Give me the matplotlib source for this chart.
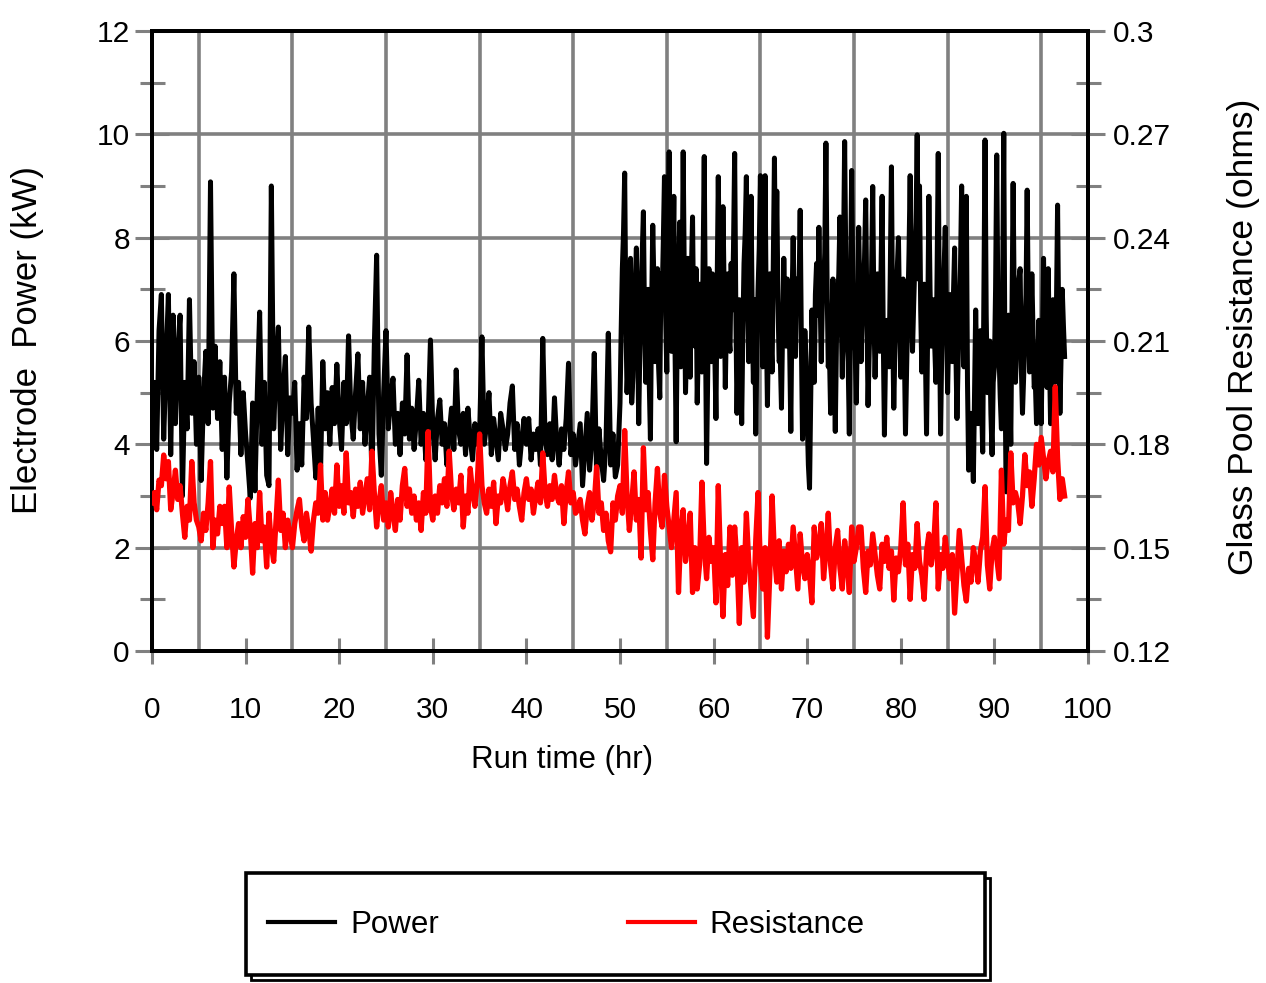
import numpy as np
import matplotlib
matplotlib.use("Agg")
import matplotlib.pyplot as plt
from matplotlib.patches import Rectangle

plt.rcParams['font.family'] = ['Liberation Sans', 'DejaVu Sans']

# ---------------- data ----------------
sample_step_hr = 0.25      # readings every 15 min, starting at 0 hr
mid_start_hr = 50.125      # extra readings between those, 50-97.5 hr

power_kw = [
    # 0-5 hr
    4.6, 5.2, 3.9, 6.2, 6.9, 4.1, 5.6, 6.9, 3.8, 6.5, 4.4, 5.8, 6.5, 3.0, 5.2, 4.3, 6.8, 4.6, 5.6, 4.0,
    # 5-10
    5.3, 3.3, 4.9, 5.8, 4.4, 9.08, 4.7, 5.9, 4.5, 5.6, 3.9, 5.3, 3.35, 4.8, 5.4, 7.3, 4.6, 5.2, 3.8, 5.0,
    # 10-15
    4.2, 3.6, 2.96, 4.8, 3.1, 5.0, 6.56, 4.0, 5.2, 3.4, 3.2, 9.0, 4.3, 5.5, 6.27, 3.9, 5.0, 5.7, 3.8, 4.9,
    # 15-20
    4.6, 5.2, 3.5, 4.4, 3.6, 5.3, 4.5, 6.27, 4.8, 4.1, 3.35, 4.7, 3.4, 5.6, 4.3, 5.0, 4.0, 5.1, 4.4, 5.55,
    # 20-25
    4.5, 3.9, 5.2, 4.4, 6.1, 4.6, 4.1, 5.0, 5.75, 4.3, 5.2, 4.0, 4.7, 5.3, 3.3, 5.9, 7.66, 4.2, 3.4, 5.0,
    # 25-30
    6.2, 4.3, 4.9, 5.28, 4.0, 4.6, 3.8, 4.8, 4.2, 5.73, 4.1, 4.7, 3.9, 4.5, 5.24, 4.0, 4.6, 3.7, 4.4, 6.02,
    # 30-35
    4.3, 3.7, 4.5, 4.86, 4.0, 4.4, 3.6, 4.2, 4.7, 3.9, 5.44, 4.3, 4.0, 4.6, 3.8, 4.7, 4.1, 3.7, 4.4, 4.0,
    # 35-40
    4.2, 6.08, 4.0, 4.4, 5.0, 3.8, 4.5, 4.1, 3.7, 4.6, 4.3, 3.9, 4.2, 4.8, 5.13, 3.9, 4.4, 3.6, 4.1, 4.5,
    # 40-45
    4.0, 4.5, 3.7, 4.2, 3.9, 4.3, 3.6, 6.05, 4.1, 3.8, 4.4, 3.7, 4.9, 4.0, 3.6, 4.3, 3.9, 4.5, 5.57, 3.8,
    # 45-50
    4.2, 3.6, 4.0, 4.4, 3.2, 3.9, 4.6, 3.5, 4.1, 5.76, 3.4, 4.3, 3.7, 3.3, 4.0, 6.15, 3.6, 4.2, 3.37, 3.6,
    # 50-55
    4.8, 7.4, 9.25, 5.0, 7.2, 4.8, 6.6, 7.8, 4.4, 6.9, 8.5, 5.2, 7.0, 4.1, 8.24, 5.6, 7.4, 4.9, 6.8, 9.18,
    # 55-60
    5.4, 9.66, 5.8, 8.8, 4.05, 7.2, 5.5, 9.66, 5.0, 7.6, 5.3, 8.4, 5.9, 4.8, 7.1, 5.4, 9.57, 3.63, 7.4, 5.6,
    # 60-65
    6.9, 4.5, 9.18, 5.7, 8.6, 5.1, 7.3, 5.8, 6.6, 9.63, 4.6, 6.8, 4.4, 7.5, 9.18, 5.6, 8.8, 5.2, 4.2, 7.0,
    # 65-70
    9.2, 5.5, 9.2, 4.75, 7.3, 5.4, 9.54, 8.9, 5.6, 4.7, 7.6, 5.9, 6.8, 4.25, 8.0, 5.7, 6.9, 8.53, 4.1, 6.2,
    # 70-75
    4.5, 3.15, 6.6, 5.2, 7.5, 8.2, 5.6, 7.0, 9.83, 5.5, 4.6, 7.2, 4.25, 6.8, 8.4, 5.3, 9.86, 6.0, 4.2, 9.3,
    # 75-80
    6.1, 4.8, 8.2, 5.6, 7.0, 8.73, 4.75, 6.5, 8.99, 5.3, 7.3, 5.8, 8.8, 4.18, 6.4, 5.5, 9.37, 4.7, 6.9, 8.0,
    # 80-85
    5.3, 7.2, 4.2, 6.6, 9.2, 5.8, 7.5, 9.99, 9.0, 5.4, 7.1, 4.2, 8.8, 5.9, 6.8, 5.2, 9.63, 4.2, 7.0, 8.2,
    # 85-90
    5.0, 6.9, 5.6, 7.8, 4.5, 6.4, 9.0, 5.5, 8.8, 3.5, 4.6, 3.28, 6.6, 4.4, 6.2, 3.85, 9.89, 5.0, 6.0, 3.8,
    # 90-95
    5.5, 9.6, 5.7, 4.3, 10.02, 3.08, 6.5, 4.0, 9.05, 5.2, 6.8, 7.4, 4.6, 6.2, 8.92, 5.4, 7.3, 5.1, 4.4, 6.4,
    # 95-97.5
    4.4, 7.6, 5.6, 7.4, 4.4, 6.8, 5.2, 8.63, 4.6, 7.0, 5.7,
]

# in-between readings (50.125, 50.375, ... 97.375 hr)
power_mid_kw = [
    # 50-55
    6.2, 8.1, 6.5, 5.6, 7.6, 5.3, 7.0, 6.1, 5.9, 7.7, 6.3, 6.0, 5.2, 6.6, 7.1, 6.2, 5.5, 7.3, 7.9, 6.5,
    # 55-60
    7.8, 6.9, 7.2, 5.9, 6.3, 8.3, 6.6, 7.1, 6.0, 6.5, 7.3, 6.2, 7.4, 6.0, 6.7, 7.5, 6.3, 5.4, 6.4, 7.3,
    # 60-65
    5.8, 7.0, 7.2, 6.5, 7.0, 6.4, 6.1, 7.5, 7.8, 6.6, 5.9, 6.0, 6.2, 8.1, 7.0, 6.9, 6.5, 6.8, 5.8, 7.8,
    # 65-70
    7.2, 7.0, 6.5, 6.3, 6.1, 7.4, 7.0, 6.8, 5.7, 6.3, 6.6, 7.2, 5.9, 6.7, 6.4, 7.2, 7.0, 6.0, 5.0, 5.6,
    # 70-75
    3.6, 4.8, 5.9, 6.9, 6.5, 6.9, 6.8, 7.7, 7.1, 5.8, 6.2, 5.7, 6.0, 7.3, 6.6, 7.6, 7.5, 5.6, 7.0, 7.2,
    # 75-80
    5.8, 6.5, 6.9, 6.4, 7.6, 6.6, 5.8, 7.3, 6.6, 6.2, 6.5, 7.2, 6.1, 5.8, 6.2, 7.3, 6.3, 5.9, 7.4, 6.4,
    # 80-85
    6.3, 5.9, 5.5, 7.7, 7.0, 6.7, 8.3, 7.2, 6.6, 6.4, 5.8, 6.3, 7.0, 6.6, 5.9, 7.3, 6.5, 5.8, 7.4, 6.5,
    # 85-90
    6.2, 6.0, 6.9, 5.9, 5.6, 7.4, 7.0, 6.9, 5.2, 4.0, 4.1, 5.0, 5.4, 5.3, 4.8, 6.8, 6.5, 5.6, 4.6, 5.2,
    # 90-95
    7.0, 6.6, 4.9, 6.8, 5.5, 4.6, 5.3, 6.5, 6.6, 5.9, 7.2, 5.5, 5.3, 6.9, 6.6, 5.9, 6.2, 5.2, 5.5, 5.0,
    # 95-97.5
    5.9, 6.3, 5.1, 5.8, 5.6, 5.9, 6.6, 6.2, 5.7, 6.3,
]

resistance_ohm = [
    # 0-5 hr
    0.163, 0.166, 0.161, 0.1696, 0.168, 0.1769, 0.170, 0.175, 0.161, 0.166, 0.1725, 0.164, 0.168, 0.160, 0.153, 0.162, 0.158, 0.175, 0.163, 0.158,
    # 5-10
    0.156, 0.152, 0.160, 0.155, 0.163, 0.175, 0.150, 0.158, 0.154, 0.162, 0.157, 0.162, 0.150, 0.1676, 0.155, 0.1444, 0.152, 0.157, 0.150, 0.159,
    # 10-15
    0.153, 0.164, 0.155, 0.1426, 0.157, 0.150, 0.166, 0.152, 0.156, 0.1444, 0.160, 0.151, 0.146, 0.158, 0.1696, 0.155, 0.160, 0.150, 0.158, 0.154,
    # 15-20
    0.150, 0.157, 0.161, 0.164, 0.156, 0.152, 0.160, 0.155, 0.149, 0.158, 0.163, 0.160, 0.174, 0.158, 0.166, 0.158, 0.162, 0.167, 0.160, 0.174,
    # 20-25
    0.162, 0.168, 0.160, 0.1775, 0.163, 0.166, 0.159, 0.167, 0.162, 0.169, 0.160, 0.165, 0.170, 0.161, 0.178, 0.166, 0.156, 0.163, 0.168, 0.158,
    # 25-30
    0.163, 0.156, 0.166, 0.160, 0.155, 0.164, 0.158, 0.168, 0.173, 0.162, 0.167, 0.160, 0.165, 0.158, 0.163, 0.155, 0.166, 0.160, 0.1837, 0.162,
    # 30-35
    0.158, 0.165, 0.160, 0.168, 0.163, 0.170, 0.162, 0.178, 0.166, 0.161, 0.167, 0.163, 0.171, 0.156, 0.165, 0.160, 0.173, 0.166, 0.162, 0.169,
    # 35-40
    0.183, 0.168, 0.163, 0.160, 0.167, 0.162, 0.169, 0.157, 0.165, 0.163, 0.170, 0.166, 0.161, 0.168, 0.172, 0.164, 0.167, 0.162, 0.158, 0.166,
    # 40-45
    0.170, 0.164, 0.167, 0.160, 0.165, 0.169, 0.163, 0.1775, 0.166, 0.162, 0.168, 0.164, 0.171, 0.165, 0.163, 0.168, 0.157, 0.166, 0.172, 0.163,
    # 45-50
    0.166, 0.160, 0.161, 0.164, 0.158, 0.154, 0.162, 0.166, 0.158, 0.163, 0.1735, 0.160, 0.163, 0.155, 0.160, 0.152, 0.1488, 0.163, 0.158, 0.165,
    # 50-55
    0.168, 0.160, 0.184, 0.165, 0.155, 0.163, 0.172, 0.158, 0.164, 0.147, 0.179, 0.161, 0.166, 0.155, 0.1465, 0.163, 0.173, 0.160, 0.156, 0.171,
    # 55-60
    0.162, 0.156, 0.150, 0.158, 0.166, 0.137, 0.155, 0.161, 0.146, 0.152, 0.160, 0.137, 0.150, 0.138, 0.145, 0.169, 0.150, 0.141, 0.153, 0.146,
    # 60-65
    0.150, 0.134, 0.168, 0.145, 0.130, 0.148, 0.139, 0.156, 0.142, 0.156, 0.146, 0.128, 0.150, 0.140, 0.160, 0.146, 0.138, 0.130, 0.152, 0.166,
    # 65-70
    0.145, 0.138, 0.150, 0.124, 0.142, 0.165, 0.148, 0.140, 0.152, 0.138, 0.149, 0.143, 0.151, 0.144, 0.156, 0.147, 0.138, 0.154, 0.145, 0.141,
    # 70-75
    0.148, 0.142, 0.134, 0.156, 0.147, 0.150, 0.157, 0.141, 0.149, 0.160, 0.145, 0.138, 0.150, 0.155, 0.144, 0.138, 0.152, 0.146, 0.137, 0.156,
    # 75-80
    0.146, 0.150, 0.156, 0.156, 0.144, 0.137, 0.149, 0.145, 0.154, 0.148, 0.142, 0.138, 0.151, 0.146, 0.153, 0.144, 0.149, 0.1348, 0.147, 0.143,
    # 80-85
    0.150, 0.163, 0.145, 0.151, 0.135, 0.148, 0.144, 0.157, 0.146, 0.142, 0.135, 0.149, 0.154, 0.145, 0.150, 0.163, 0.138, 0.148, 0.144, 0.153,
    # 85-90
    0.146, 0.141, 0.148, 0.131, 0.143, 0.155, 0.147, 0.139, 0.1345, 0.144, 0.140, 0.150, 0.146, 0.140, 0.149, 0.153, 0.1677, 0.145, 0.138, 0.149,
    # 90-95
    0.153, 0.147, 0.141, 0.1725, 0.151, 0.158, 0.155, 0.1775, 0.163, 0.166, 0.163, 0.157, 0.165, 0.177, 0.168, 0.172, 0.162, 0.170, 0.180, 0.174,
    # 95-97.5
    0.182, 0.176, 0.170, 0.175, 0.178, 0.172, 0.1967, 0.176, 0.164, 0.170, 0.165,
]

x_ticks = [0, 10, 20, 30, 40, 50, 60, 70, 80, 90, 100]
x_grid = [5, 15, 25, 35, 45, 55, 65, 75, 85, 95]
left_ticks = [0, 2, 4, 6, 8, 10, 12]
left_minor = [1, 3, 5, 7, 9, 11]
right_ticks = [0.12, 0.15, 0.18, 0.21, 0.24, 0.27, 0.30]
right_tick_labels = ['0.12', '0.15', '0.18', '0.21', '0.24', '0.27', '0.3']
right_minor = [0.135, 0.165, 0.195, 0.225, 0.255, 0.285]

series_labels = ['Power', 'Resistance']
x_label = 'Run time (hr)'
left_label = 'Electrode  Power (kW)'
right_label = 'Glass Pool Resistance (ohms)'

# ---------------- figure ----------------
W, H = 1266, 983
fig = plt.figure(figsize=(W / 100, H / 100), dpi=100)
ax = fig.add_axes([152 / W, 1 - 651 / H, 936 / W, 620 / H])
ax2 = ax.twinx()

t_main = np.arange(len(power_kw)) * sample_step_hr
t_mid = mid_start_hr + np.arange(len(power_mid_kw)) * sample_step_hr
t_all = np.concatenate([t_main, t_mid])
p_all = np.concatenate([power_kw, power_mid_kw])
order = np.argsort(t_all, kind='stable')
t_power, p_power = t_all[order], p_all[order]
t_res = np.arange(len(resistance_ohm)) * sample_step_hr

GRAY = '#808080'
ax.set_axisbelow(True)
ax.set_xlim(0, 100)
ax.set_ylim(0, 12)
ax2.set_ylim(0.12, 0.30)

ax.set_xticks(x_ticks)
ax.set_xticks(x_grid, minor=True)
ax.set_yticks(left_ticks)
ax.set_yticks(left_minor, minor=True)
ax2.set_yticks(right_ticks)
ax2.set_yticklabels(right_tick_labels)
ax2.set_yticks(right_minor, minor=True)

ax.grid(True, axis='x', which='minor', color=GRAY, lw=2.6)
ax.grid(True, axis='y', which='major', color=GRAY, lw=2.6)

tick_font = 21.5
ax.tick_params(axis='x', which='major', direction='inout', length=19, width=2.2,
               color=GRAY, labelsize=tick_font, pad=23)
ax.tick_params(axis='x', which='minor', length=0)
ax.tick_params(axis='y', which='major', direction='inout', length=25, width=2.2,
               color=GRAY, labelsize=tick_font, pad=3.5)
ax.tick_params(axis='y', which='minor', direction='inout', length=18, width=2.2, color=GRAY)
ax2.tick_params(axis='y', which='major', direction='inout', length=25, width=2.2,
                color=GRAY, labelsize=tick_font, pad=5.5)
ax2.tick_params(axis='y', which='minor', direction='inout', length=18, width=2.2, color=GRAY)

for a in (ax, ax2):
    for s in a.spines.values():
        s.set_color('black')
        s.set_linewidth(2.8)

l1, = ax.plot(t_power, p_power, color='black', lw=3.6, zorder=3)
l2, = ax2.plot(t_res, resistance_ohm, color='#ff0000', lw=3.8, zorder=3)

ax.set_xlabel(x_label, fontsize=22.5, va='center')
ax.xaxis.set_label_coords((562 - 152) / 936, (651 - 760) / 620)
ax.set_ylabel(left_label, fontsize=25, va='center')
ax.yaxis.set_label_coords((28 - 152) / 936, (651 - 340) / 620)
ax2.set_ylabel(right_label, fontsize=25.5, va='center', rotation=90)
ax2.yaxis.set_label_coords((1243 - 152) / 936, (651 - 337) / 620)

# legend box with drop shadow
fx = lambda px: px / W
fy = lambda py: 1 - py / H
shadow = Rectangle((fx(251), fy(980)), (990 - 251) / W, (980 - 878) / H,
                   transform=fig.transFigure, facecolor='none', edgecolor='black', lw=2.0, zorder=1)
box = Rectangle((fx(246), fy(975)), (985 - 246) / W, (975 - 873) / H,
                transform=fig.transFigure, facecolor='white', edgecolor='black', lw=2.6, zorder=2)
fig.patches.extend([shadow, box])

leg_font = 22.5
em = leg_font * 100 / 72
leg = fig.legend([l1, l2], series_labels, loc='center left',
                 bbox_to_anchor=(fx(268), fy(925)), ncol=2, frameon=False,
                 fontsize=leg_font, handlelength=67 / em, handletextpad=15 / em,
                 columnspacing=189 / em, borderaxespad=0, borderpad=0)
for h in leg.legend_handles:
    h.set_linewidth(3.0)

fig.savefig('out.png', dpi=100)
